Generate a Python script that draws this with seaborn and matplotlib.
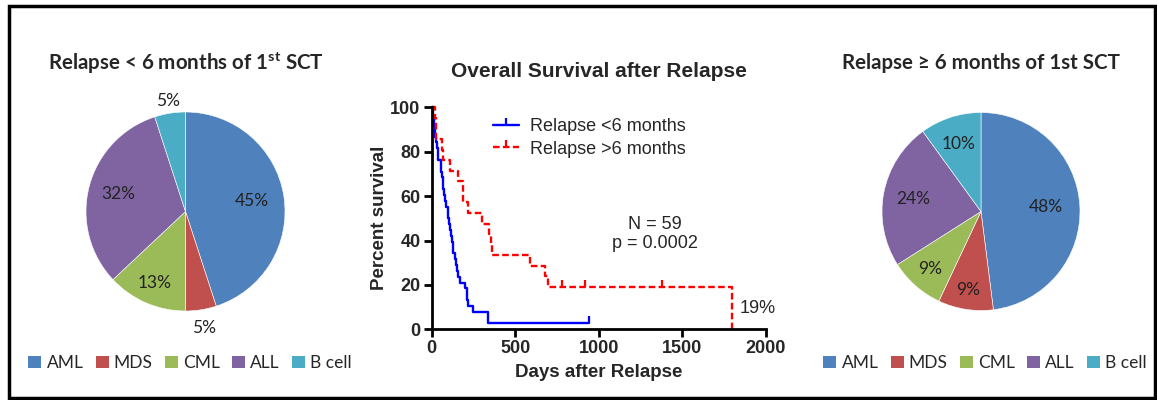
"""
Relapse after 1st SCT: disease distribution pies + overall survival after relapse.
"""

import numpy as np
import pandas as pd
import matplotlib.pyplot as plt
from matplotlib.lines import Line2D
from matplotlib.patches import Patch, Rectangle
import seaborn as sns

# ============================================================
# DATA
# ============================================================
DISEASES = ["AML", "MDS", "CML", "ALL", "B cell"]
EARLY_PCT = [45, 5, 13, 32, 5]       # relapse < 6 months
LATE_PCT = [48, 9, 9, 24, 10]        # relapse >= 6 months

# survival after relapse (days)
EARLY_DEATHS = [5, 10, 14, 18, 20, 28, 32, 36, 40, 55, 58, 62, 66, 70, 74,
                80, 86, 95, 100, 105, 112, 117, 120, 126, 129, 138, 145, 152,
                159, 169, 199, 210, 213, 218, 249, 335, 336]
EARLY_CENSOR = [943]
LATE_DEATHS = [20, 24, 28, 60, 70, 109, 159, 185, 190, 219, 299, 345, 352,
               359, 588, 678, 698, 1799]
LATE_CENSOR = [777, 917, 1376]

N_TOTAL = 59
P_VALUE = "0.0002"
LATE_END_LABEL = "19%"

COLORS = ["#4F81BD", "#C0504D", "#9BBB59", "#8064A2", "#4BACC6"]
BLUE = "#0000FF"
RED = "#FF0000"
ARIAL = ["Liberation Sans", "DejaVu Sans"]

W, H = 1157, 400


def km_curve(deaths, censors):
    """Kaplan-Meier steps, in percent."""
    events = sorted([(t, 1) for t in deaths] + [(t, 0) for t in censors])
    at_risk = len(events)
    surv = 100.0
    rows = [(0, surv)]
    censor_pts = []
    for t, d in events:
        if d:
            surv *= (at_risk - 1) / at_risk
            rows.append((t, surv))
        else:
            censor_pts.append((t, surv))
        at_risk -= 1
    last_t = max(t for t, _ in events)
    if rows[-1][0] != last_t:
        rows.append((last_t, surv))
    return pd.DataFrame(rows, columns=["day", "pct"]), pd.DataFrame(censor_pts, columns=["day", "pct"])


sns.set_theme(style="white")
plt.rcParams["font.family"] = ["Lato", "DejaVu Sans"]
plt.rcParams["mathtext.fontset"] = "custom"
plt.rcParams["mathtext.rm"] = "Lato"
plt.rcParams["mathtext.bf"] = "Lato:bold"

fig = plt.figure(figsize=(W / 100, H / 100), dpi=100)


def px_axes(cx, cy, r):
    return fig.add_axes([(cx - r) / W, 1 - (cy + r) / H, 2 * r / W, 2 * r / H])


# ============================================================
# PIES
# ============================================================
def draw_pie(ax, values, dists):
    wedges, _ = ax.pie(values, colors=COLORS, startangle=90, counterclock=False,
                       radius=1, wedgeprops=dict(edgecolor="white", linewidth=0.4))
    for w, v, d in zip(wedges, values, dists):
        ang = np.deg2rad((w.theta1 + w.theta2) / 2)
        ax.text(d * np.cos(ang), d * np.sin(ang), f"{v}%", ha="center", va="center",
                fontsize=12.5, color="#222222")
    ax.set_xlim(-1, 1)
    ax.set_ylim(-1, 1)
    ax.set_aspect("equal")
    ax.axis("off")


ax_l = px_axes(185.5, 211.5, 99.5)
draw_pie(ax_l, EARLY_PCT, [0.68, 1.19, 0.78, 0.70, 1.12])
ax_r = px_axes(981, 211.5, 99)
draw_pie(ax_r, LATE_PCT, [0.66, 0.80, 0.78, 0.70, 0.72])

fig.text(186 / W, 1 - 63 / H, r"Relapse < 6 months of 1$^{\mathbf{st}}$ SCT",
         ha="center", va="center", fontsize=14.8, fontweight="bold")
fig.text(981 / W, 1 - 63 / H, "Relapse ≥ 6 months of 1st SCT",
         ha="center", va="center", fontsize=14.8, fontweight="bold")

handles = [Patch(facecolor=c, edgecolor="none") for c in COLORS]
for cx in (190, 985):
    fig.legend(handles, DISEASES, loc="center", bbox_to_anchor=(cx / W, 1 - 363 / H),
               ncol=5, frameon=False, fontsize=12.5, handlelength=0.75, handleheight=0.75,
               handletextpad=0.3, columnspacing=0.7, borderpad=0, borderaxespad=0)

# ============================================================
# KAPLAN-MEIER
# ============================================================
ax = fig.add_axes([431.7 / W, 1 - 329.3 / H, (766 - 431.7) / W, (329.3 - 107.3) / H])

early_df, early_c = km_curve(EARLY_DEATHS, EARLY_CENSOR)
late_df, late_c = km_curve(LATE_DEATHS, LATE_CENSOR)

DASH = (2.8, 1.4)
sns.lineplot(data=early_df, x="day", y="pct", ax=ax, color=BLUE, lw=1.7,
             drawstyle="steps-post", estimator=None, sort=False)
sns.lineplot(data=late_df, x="day", y="pct", ax=ax, color=RED, lw=1.7,
             drawstyle="steps-post", estimator=None, sort=False)
ax.lines[-1].set_dashes(DASH)
ax.plot(early_c["day"], early_c["pct"], ls="none", marker=2, ms=5, mew=1.6, color=BLUE)
ax.plot(late_c["day"], late_c["pct"], ls="none", marker=2, ms=5, mew=1.6, color=RED)

ax.set_xlim(0, 2000)
ax.set_ylim(0, 100)
ax.set_xticks(range(0, 2001, 500))
ax.set_yticks(range(0, 101, 20))
sns.despine(ax=ax)
for s in ("left", "bottom"):
    ax.spines[s].set_linewidth(2)
    ax.spines[s].set_color("black")
ax.tick_params(axis="both", direction="out", length=6, width=2, color="black",
               labelsize=13, pad=2, bottom=True, left=True)
for lab in ax.get_xticklabels() + ax.get_yticklabels():
    lab.set_fontweight("bold")
    lab.set_family(ARIAL)
ax.set_xlabel("Days after Relapse", fontsize=13.5, fontweight="bold", family=ARIAL, labelpad=5)
ax.set_ylabel("Percent survival", fontsize=13.5, fontweight="bold", family=ARIAL, labelpad=2)
ax.set_title("Overall Survival after Relapse", fontsize=15, fontweight="bold",
             family=ARIAL, pad=22)
for ln in ax.lines:
    ln.set_clip_on(False)

km_handles = [Line2D([0], [0], color=BLUE, lw=1.7, marker=2, ms=5, mew=1.6),
              Line2D([0], [0], color=RED, lw=1.7, ls=(0, DASH), marker=2, ms=5, mew=1.6)]
ax.legend(km_handles, ["Relapse <6 months", "Relapse >6 months"], loc="upper left",
          bbox_to_anchor=(0.15, 1.0), frameon=False, handlelength=1.45, handletextpad=0.6,
          prop=dict(family=ARIAL, size=13), labelspacing=0.3, borderaxespad=0.2)

ax.text(1335, 43, f"N = {N_TOTAL}\np = {P_VALUE}", ha="center", va="center",
        fontsize=13, family=ARIAL, linespacing=1.15)
ax.text(1840, 9.5, LATE_END_LABEL, ha="left", va="center", fontsize=13,
        family=ARIAL, clip_on=False)

# outer frame
fig.add_artist(Rectangle((9 / W, 2 / H), 1146 / W, 392 / H, transform=fig.transFigure,
                         fill=False, lw=2.5, edgecolor="black"))

fig.savefig("out.png", dpi=100)
